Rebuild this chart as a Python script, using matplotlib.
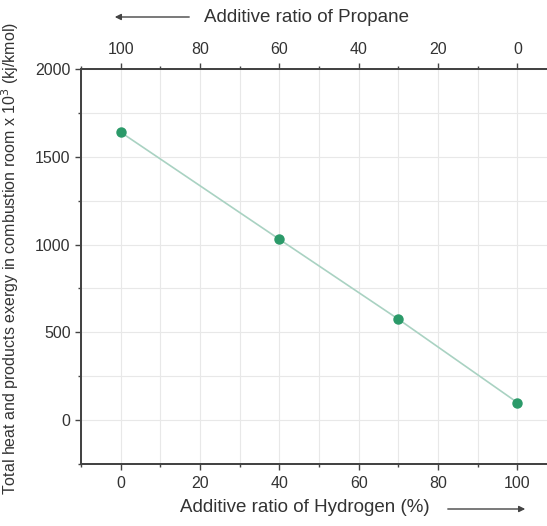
import numpy as np
from matplotlib import pyplot as plt

plt.rcParams['font.family'] = ['Liberation Sans', 'DejaVu Sans']

# data
hydrogen = [0, 40, 70, 100]
exergy = [1640, 1030, 575, 100]
bottom_ticks = [0, 20, 40, 60, 80, 100]
top_ticks = [100, 80, 60, 40, 20, 0]
y_ticks = [0, 500, 1000, 1500, 2000]

W, H = 547, 526
fig = plt.figure(figsize=(W / 100, H / 100), dpi=100)

# axes run past the right edge of the picture, like the cropped original
left, right, top, bottom = 81, 557, 69, 464
ax = fig.add_axes([left / W, 1 - bottom / H, (right - left) / W, (bottom - top) / H])

ax.plot(hydrogen, exergy, color='#a9d2c2', linewidth=1.2, zorder=2)
ax.plot(hydrogen, exergy, 'o', color='#2b9a69', markersize=6.5, zorder=3)

ax.set_xlim(-10, 110)
ax.set_ylim(-250, 2000)
ax.set_xticks(bottom_ticks)
ax.set_xticks(np.arange(-10, 111, 10), minor=True)
ax.set_yticks(y_ticks)
ax.set_yticks(np.arange(-250, 2001, 250), minor=True)

ax.grid(True, which='both', color='#e8e8e8', linewidth=0.8, zorder=0)
ax.set_axisbelow(True)

ax2 = ax.twiny()
ax2.set_xlim(110, -10)
ax2.set_xticks(top_ticks)
ax2.set_xticks(np.arange(-10, 111, 10), minor=True)

for a in (ax, ax2):
    for side in ('left', 'bottom', 'top'):
        a.spines[side].set_color('#444444')
        a.spines[side].set_linewidth(1.4)
    a.spines['right'].set_visible(False)
    a.tick_params(which='major', length=4, width=1, color='#444444',
                  labelsize=11.5, labelcolor='#333333')
    a.tick_params(which='minor', length=2.5, width=1, color='#444444')

ax.tick_params(axis='x', pad=5)
ax2.tick_params(axis='x', pad=5)

ax.set_ylabel('Total heat and products exergy in combustion room x 10$^3$ (kj/kmol)',
              fontsize=11.5, color='#333333')
ax.yaxis.set_label_coords(-0.126, 0.519)

fig.text(305 / W, 1 - 508 / H, 'Additive ratio of Hydrogen (%)', ha='center', va='center',
         fontsize=13.5, color='#333333')
fig.text(307 / W, 1 - 18 / H, 'Additive ratio of Propane', ha='center', va='center',
         fontsize=13.5, color='#333333')

arrow = dict(arrowstyle='-|>', color='#444444', linewidth=1, mutation_scale=9)
ax.annotate('', xy=(112 / W, 1 - 17 / H), xytext=(192 / W, 1 - 17 / H),
            xycoords='figure fraction', textcoords='figure fraction', arrowprops=arrow)
ax.annotate('', xy=(528 / W, 1 - 509 / H), xytext=(445 / W, 1 - 509 / H),
            xycoords='figure fraction', textcoords='figure fraction', arrowprops=arrow)

fig.savefig('out.png', dpi=100)
